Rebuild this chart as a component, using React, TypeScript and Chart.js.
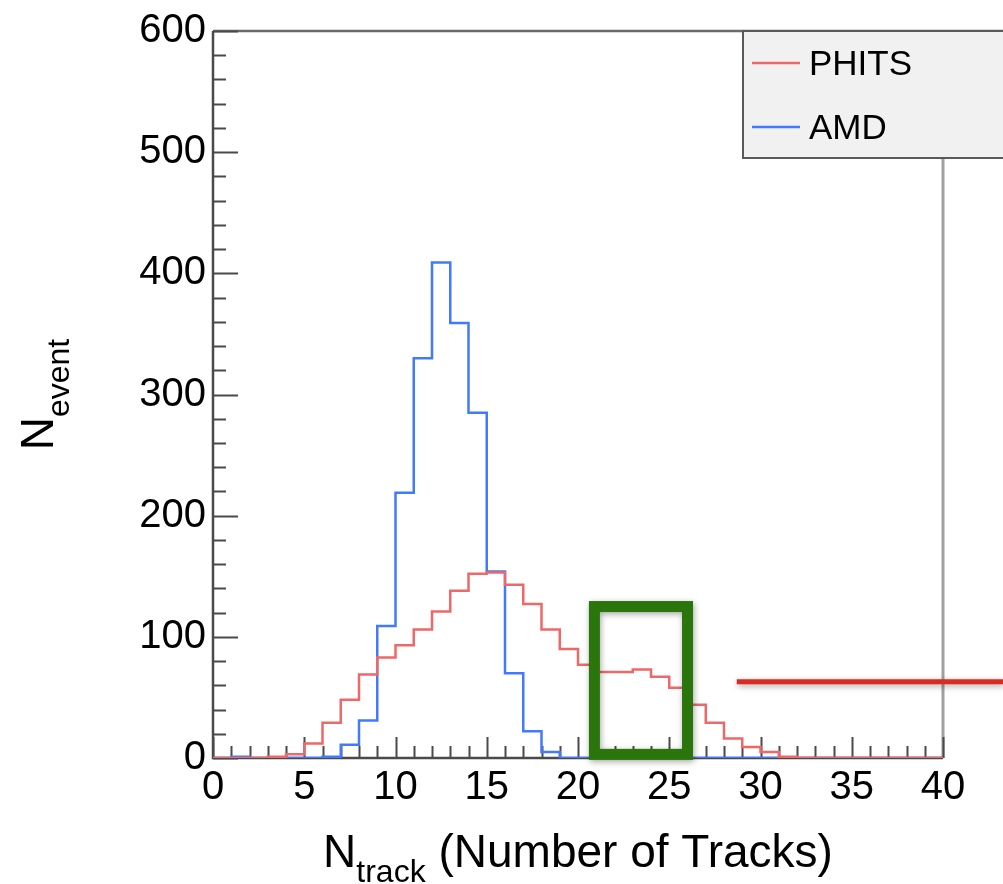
import React, { useEffect, useRef } from "react";
import { Chart, registerables } from "chart.js";

Chart.register(...registerables);

// Bin index = low edge of a 1-wide bin, 0..39
const PHITS_COUNTS = [
  0, 0, 0, 1, 3, 12, 29, 48, 69, 83,
  93, 106, 121, 138, 152, 153, 143, 127, 106, 90,
  77, 71, 71, 73, 67, 58, 44, 29, 16, 9,
  5, 1, 0, 0, 0, 0, 0, 0, 0, 0,
];
const AMD_COUNTS = [
  0, 1, 0, 0, 0, 0, 1, 11, 31, 109,
  219, 330, 409, 359, 285, 154, 70, 22, 5, 0,
  0, 0, 0, 0, 0, 0, 0, 0, 0, 0,
  0, 0, 0, 0, 0, 0, 0, 0, 0, 0,
];
const SERIES_NAMES = ["PHITS", "AMD"];
const X_RANGE = [0, 40];
const Y_RANGE = [0, 600];
const X_MAJOR_STEP = 5;
const Y_MAJOR_STEP = 100;
const X_TITLE_MAIN = "N";
const X_TITLE_SUB = "track";
const X_TITLE_REST = " (Number of Tracks)";
const Y_TITLE_MAIN = "N";
const Y_TITLE_SUB = "event";
// annotations, in data coordinates
const HIGHLIGHT_BOX = [20.9, 26.0, 3, 125]; // xMin, xMax, yMin, yMax
const POINTER_LINE = [28.7, 63]; // xStart, y (runs to the right edge)

const FONT = '"Liberation Sans", Arial, Helvetica, sans-serif';
const RED = "rgba(238,104,104,1)";
const BLUE = "rgba(66,122,255,1)";

function toSteps(counts: number[]) {
  const pts = counts.map((v, i) => ({ x: i, y: v }));
  pts.push({ x: counts.length, y: counts[counts.length - 1] });
  return pts;
}

const framePlugin = {
  id: "rootFrame",
  beforeDatasetsDraw(chart: any) {
    const { ctx, chartArea: a, scales } = chart;
    const xs = scales.x;
    const ys = scales.y;
    ctx.save();
    ctx.lineCap = "butt";
    // top frame
    ctx.strokeStyle = "#6a6a6a";
    ctx.lineWidth = 2.5;
    ctx.beginPath();
    ctx.moveTo(a.left, a.top);
    ctx.lineTo(chart.width, a.top);
    ctx.stroke();
    // right frame
    ctx.strokeStyle = "#a0a0a0";
    ctx.lineWidth = 3;
    ctx.beginPath();
    ctx.moveTo(a.right, a.top);
    ctx.lineTo(a.right, a.bottom);
    ctx.stroke();
    // left axis + bottom axis
    ctx.strokeStyle = "#4a4a4a";
    ctx.lineWidth = 2.5;
    ctx.beginPath();
    ctx.moveTo(a.left, a.top);
    ctx.lineTo(a.left, a.bottom);
    ctx.lineTo(a.right, a.bottom);
    ctx.stroke();
    // y ticks
    ctx.lineWidth = 2;
    ctx.beginPath();
    for (let v = Y_RANGE[0]; v <= Y_RANGE[1]; v += Y_MAJOR_STEP / 5) {
      const y = Math.round(ys.getPixelForValue(v)) + 0.5;
      const len = v % Y_MAJOR_STEP === 0 ? 25 : 13;
      ctx.moveTo(a.left, y);
      ctx.lineTo(a.left + len, y);
    }
    // x ticks
    for (let v = X_RANGE[0]; v <= X_RANGE[1]; v += 1) {
      const x = Math.round(xs.getPixelForValue(v)) + 0.5;
      const len = v % X_MAJOR_STEP === 0 ? 21 : 12;
      ctx.moveTo(x, a.bottom);
      ctx.lineTo(x, a.bottom - len);
    }
    ctx.stroke();
    ctx.restore();
  },
  afterDatasetsDraw(chart: any) {
    const { ctx, chartArea: a, scales } = chart;
    const xs = scales.x;
    const ys = scales.y;
    ctx.save();

    // highlight box
    const bx0 = xs.getPixelForValue(HIGHLIGHT_BOX[0]);
    const bx1 = xs.getPixelForValue(HIGHLIGHT_BOX[1]);
    const by0 = ys.getPixelForValue(HIGHLIGHT_BOX[3]);
    const by1 = ys.getPixelForValue(HIGHLIGHT_BOX[2]);
    ctx.shadowColor = "rgba(0,0,0,0.35)";
    ctx.shadowBlur = 6;
    ctx.shadowOffsetX = 1;
    ctx.shadowOffsetY = 2;
    ctx.strokeStyle = "#2a760c";
    ctx.lineWidth = 11;
    ctx.strokeRect(bx0, by0, bx1 - bx0, by1 - by0);

    // pointer line
    const py = ys.getPixelForValue(POINTER_LINE[1]);
    ctx.strokeStyle = "#dc2a22";
    ctx.lineWidth = 5;
    ctx.beginPath();
    ctx.moveTo(xs.getPixelForValue(POINTER_LINE[0]), py);
    ctx.lineTo(chart.width, py);
    ctx.stroke();
    ctx.shadowColor = "transparent";
    ctx.shadowBlur = 0;
    ctx.shadowOffsetX = 0;
    ctx.shadowOffsetY = 0;

    // legend
    const lx = 743;
    const ly = a.top;
    const lh = 127;
    ctx.fillStyle = "#f1f1f1";
    ctx.fillRect(lx, ly, chart.width - lx + 5, lh);
    ctx.strokeStyle = "#5a5a5a";
    ctx.lineWidth = 2;
    ctx.strokeRect(lx, ly, chart.width - lx + 5, lh);
    const colors = [RED, BLUE];
    const rows = [ly + 32, ly + 96];
    ctx.font = `35px ${FONT}`;
    ctx.textBaseline = "alphabetic";
    ctx.textAlign = "left";
    SERIES_NAMES.forEach((name, i) => {
      ctx.strokeStyle = colors[i];
      ctx.lineWidth = 2.5;
      ctx.beginPath();
      ctx.moveTo(lx + 9, rows[i]);
      ctx.lineTo(lx + 57, rows[i]);
      ctx.stroke();
      ctx.fillStyle = "#000";
      ctx.fillText(name, lx + 66, rows[i] + 12);
    });

    // x title
    ctx.fillStyle = "#000";
    const mainF = `46px ${FONT}`;
    const subF = `32px ${FONT}`;
    ctx.font = mainF;
    const wN = ctx.measureText(X_TITLE_MAIN).width;
    const wRest = ctx.measureText(X_TITLE_REST).width;
    ctx.font = subF;
    const wSub = ctx.measureText(X_TITLE_SUB).width;
    const total = wN + wSub + wRest;
    let tx = (a.left + a.right) / 2 - total / 2;
    const base = 867;
    ctx.font = mainF;
    ctx.fillText(X_TITLE_MAIN, tx, base);
    tx += wN;
    ctx.font = subF;
    ctx.fillText(X_TITLE_SUB, tx, base + 15);
    tx += wSub;
    ctx.font = mainF;
    ctx.fillText(X_TITLE_REST, tx, base);

    // y title
    ctx.font = mainF;
    const ywN = ctx.measureText(Y_TITLE_MAIN).width;
    ctx.font = subF;
    const ywSub = ctx.measureText(Y_TITLE_SUB).width;
    const ytot = ywN + ywSub;
    ctx.translate(53, (a.top + a.bottom) / 2 + ytot / 2);
    ctx.rotate(-Math.PI / 2);
    ctx.font = mainF;
    ctx.fillText(Y_TITLE_MAIN, 0, 0);
    ctx.font = subF;
    ctx.fillText(Y_TITLE_SUB, ywN, 16);

    ctx.restore();
  },
};

export default function App() {
  const ref = useRef<HTMLCanvasElement | null>(null);
  useEffect(() => {
    if (!ref.current) return;
    const chart = new Chart(ref.current, {
      type: "line",
      data: {
        datasets: [
          {
            label: SERIES_NAMES[0],
            data: toSteps(PHITS_COUNTS),
            borderColor: RED,
            borderWidth: 2.5,
            stepped: "before",
            pointRadius: 0,
            fill: false,
          },
          {
            label: SERIES_NAMES[1],
            data: toSteps(AMD_COUNTS),
            borderColor: BLUE,
            borderWidth: 2.5,
            stepped: "before",
            pointRadius: 0,
            fill: false,
          },
        ],
      },
      plugins: [framePlugin],
      options: {
        responsive: false,
        animation: false,
        devicePixelRatio: 1,
        layout: { padding: { top: 30, right: 60, left: 0, bottom: 0 } },
        plugins: {
          legend: { display: false },
          tooltip: { enabled: false },
        },
        scales: {
          x: {
            type: "linear",
            min: X_RANGE[0],
            max: X_RANGE[1],
            grid: { display: false, drawTicks: false },
            border: { display: false },
            ticks: {
              stepSize: X_MAJOR_STEP,
              autoSkip: false,
              maxRotation: 0,
              minRotation: 0,
              color: "#000",
              padding: 6,
              font: { family: FONT, size: 40 },
            },
            afterFit: (s: any) => {
              s.height = 126;
            },
          },
          y: {
            type: "linear",
            min: Y_RANGE[0],
            max: Y_RANGE[1],
            grid: { display: false, drawTicks: false },
            border: { display: false },
            ticks: {
              stepSize: Y_MAJOR_STEP,
              color: "#000",
              padding: 7,
              font: { family: FONT, size: 40 },
            },
            afterFit: (s: any) => {
              s.width = 213;
            },
          },
        },
      },
    });
    return () => chart.destroy();
  }, []);
  return (
    <div style={{ position: "absolute", left: 0, top: 0, width: 1003, height: 884, background: "#fff" }}>
      <canvas ref={ref} width={1003} height={884} />
    </div>
  );
}
